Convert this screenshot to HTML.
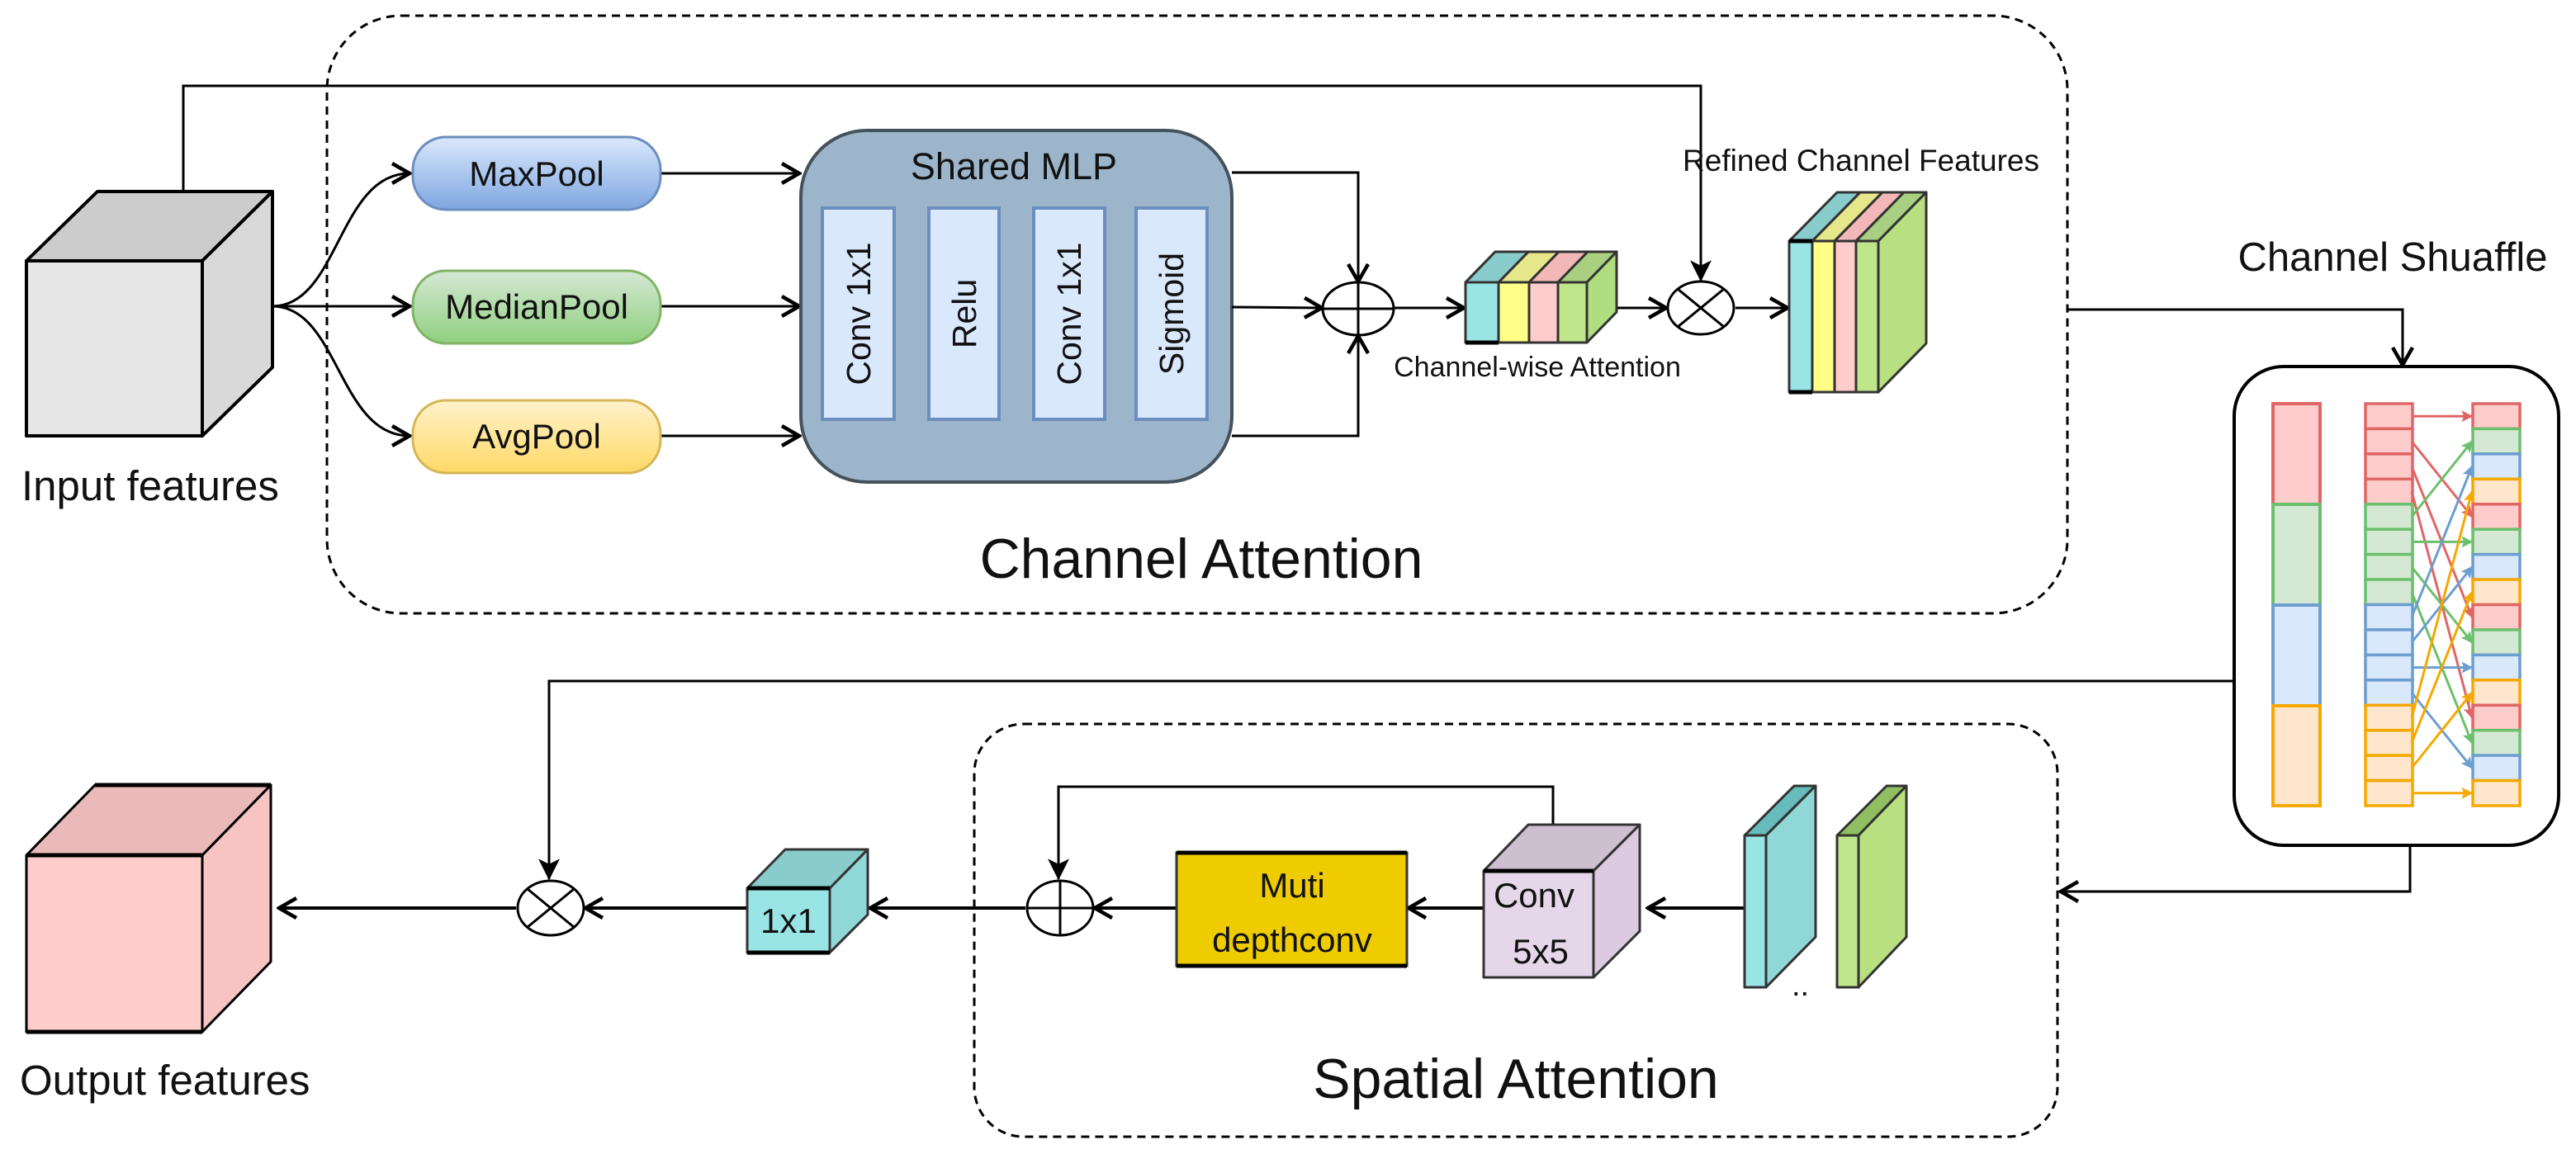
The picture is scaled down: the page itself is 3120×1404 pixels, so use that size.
<!DOCTYPE html>
<html><head><meta charset="utf-8"><style>html,body{margin:0;padding:0;background:#fff}svg{display:block}text{font-family:"Liberation Sans",sans-serif;fill:#111}</style></head><body>
<svg width="3120" height="1404" viewBox="0 0 3120 1404" xmlns="http://www.w3.org/2000/svg">
<defs>
<marker id="o" markerUnits="userSpaceOnUse" markerWidth="30" markerHeight="30" viewBox="0 0 20 20" refX="18" refY="10" orient="auto"><path d="M4,2 L18,10 L4,18" fill="none" stroke="#000" stroke-width="3"/></marker>
<marker id="f" markerUnits="userSpaceOnUse" markerWidth="26" markerHeight="34" viewBox="0 0 20 26" refX="19" refY="13" orient="auto"><path d="M0,3 L20,13 L0,23 L5,13 Z" fill="#000"/></marker>
<marker id="s" markerUnits="userSpaceOnUse" markerWidth="14" markerHeight="14" viewBox="0 0 10 10" refX="9" refY="5" orient="auto"><path d="M0,0 L10,5 L0,10 L2,5 Z" fill="context-stroke"/></marker>
<linearGradient id="gb" x1="0" y1="0" x2="0" y2="1"><stop offset="0" stop-color="#dae8fc"/><stop offset="1" stop-color="#7ea6e0"/></linearGradient>
<linearGradient id="gg" x1="0" y1="0" x2="0" y2="1"><stop offset="0" stop-color="#d5e8d4"/><stop offset="1" stop-color="#8fcf7f"/></linearGradient>
<linearGradient id="gy" x1="0" y1="0" x2="0" y2="1"><stop offset="0" stop-color="#fff2cc"/><stop offset="1" stop-color="#ffd966"/></linearGradient>
</defs>

<rect x="396" y="19" width="2108" height="724" rx="90" fill="none" stroke="#000" stroke-width="3" stroke-dasharray="10,7"/>
<rect x="1180" y="877" width="1312" height="500" rx="60" fill="none" stroke="#000" stroke-width="3" stroke-dasharray="10,7"/>

<g stroke="#000" stroke-width="4" stroke-linejoin="round">
<polygon points="32,316 118,232 330,232 245,316" fill="#cccccc"/>
<polygon points="245,316 330,232 330,445 245,528" fill="#d9d9d9"/>
<rect x="32" y="316" width="213" height="212" fill="#e6e6e6"/>
</g>
<text x="26" y="606" font-size="51">Input features</text>

<polyline points="222,232 222,104 2060,104 2060,340" fill="none" stroke="#000" stroke-width="3" marker-end="url(#f)"/>

<g fill="none" stroke="#000" stroke-width="3" marker-end="url(#o)">
<path d="M330,371 C410,371 410,210 496,210"/>
<path d="M330,371 L496,371"/>
<path d="M330,371 C410,371 410,528 496,528"/>
<path d="M800,210 L968,210"/>
<path d="M800,371 L968,371"/>
<path d="M800,528 L968,528"/>
</g>
<rect x="500" y="166" width="300" height="88" rx="40" fill="url(#gb)" stroke="#6c8ebf" stroke-width="3"/>
<rect x="500" y="328" width="300" height="88" rx="40" fill="url(#gg)" stroke="#82b366" stroke-width="3"/>
<rect x="500" y="485" width="300" height="88" rx="40" fill="url(#gy)" stroke="#d6b656" stroke-width="3"/>
<text x="650" y="225" font-size="42" text-anchor="middle">MaxPool</text>
<text x="650" y="386" font-size="42" text-anchor="middle">MedianPool</text>
<text x="650" y="543" font-size="42" text-anchor="middle">AvgPool</text>

<rect x="970" y="158" width="522" height="426" rx="80" fill="#9cb5ca" stroke="#45525c" stroke-width="4"/>
<text x="1228" y="217" font-size="45" text-anchor="middle">Shared MLP</text>
<g fill="#dae8fc" stroke="#6c8ebf" stroke-width="4">
<rect x="996" y="252" width="87" height="256"/>
<rect x="1125" y="252" width="85" height="256"/>
<rect x="1252" y="252" width="86" height="256"/>
<rect x="1376" y="252" width="86" height="256"/>
</g>
<g font-size="41">
<text transform="translate(1054,380) rotate(-90)" text-anchor="middle">Conv 1x1</text>
<text transform="translate(1182,380) rotate(-90)" text-anchor="middle">Relu</text>
<text transform="translate(1309,380) rotate(-90)" text-anchor="middle">Conv 1x1</text>
<text transform="translate(1433,380) rotate(-90)" text-anchor="middle">Sigmoid</text>
</g>

<g fill="none" stroke="#000" stroke-width="3" marker-end="url(#o)">
<polyline points="1492,209 1645,209 1645,341"/>
<polyline points="1492,372 1601,373"/>
<polyline points="1492,528 1645,528 1645,407"/>
<line x1="1689" y1="373" x2="1773" y2="373"/>
<line x1="1958" y1="373" x2="2018" y2="373"/>
<line x1="2102" y1="373" x2="2165" y2="373"/>
</g>
<g fill="#fff" stroke="#000" stroke-width="3">
<ellipse cx="1645" cy="374" rx="43" ry="32"/>
<ellipse cx="2060" cy="373" rx="40" ry="32"/>
</g>
<g stroke="#000" stroke-width="3">
<line x1="1602" y1="374" x2="1688" y2="374"/><line x1="1645" y1="342" x2="1645" y2="406"/>
<line x1="2032" y1="350" x2="2088" y2="396"/><line x1="2088" y1="350" x2="2032" y2="396"/>
</g>

<g stroke="#333" stroke-width="3" stroke-linejoin="round">
<polygon points="1775,342 1811,305 1958,305 1922,342" fill="#a0d8c8"/>
<polygon points="1815,342 1851,305 1888,305 1852,342" fill="#e6e68a"/>
<polygon points="1852,342 1888,305 1923,305 1887,342" fill="#f2b8b8"/>
<polygon points="1887,342 1923,305 1958,305 1922,342" fill="#a8d080"/>
<polygon points="1775,342 1811,305 1851,305 1815,342" fill="#88cccc"/>
<polygon points="1922,342 1958,305 1958,378 1922,415" fill="#b0dd80"/>
<rect x="1775" y="342" width="40" height="73" fill="#99e5e5"/>
<rect x="1815" y="342" width="37" height="73" fill="#ffff88"/>
<rect x="1852" y="342" width="35" height="73" fill="#ffcccc"/>
<rect x="1887" y="342" width="35" height="73" fill="#c0e68c"/>
</g>
<line x1="1775" y1="415" x2="1815" y2="415" stroke="#000" stroke-width="5"/>
<text x="1862" y="456" font-size="34" text-anchor="middle">Channel-wise Attention</text>

<g stroke="#333" stroke-width="3" stroke-linejoin="round">
<polygon points="2167,292 2225,233 2253,233 2195,292" fill="#88cccc"/>
<polygon points="2195,292 2253,233 2280,233 2222,292" fill="#e6e68a"/>
<polygon points="2222,292 2280,233 2306,233 2248,292" fill="#f2b8b8"/>
<polygon points="2248,292 2306,233 2333,233 2275,292" fill="#a8d080"/>
<polygon points="2275,292 2333,233 2333,416 2275,475" fill="#b8e080"/>
<rect x="2167" y="292" width="28" height="183" fill="#99e5e5"/>
<rect x="2195" y="292" width="27" height="183" fill="#ffff88"/>
<rect x="2222" y="292" width="26" height="183" fill="#ffcccc"/>
<rect x="2248" y="292" width="27" height="183" fill="#c0e68c"/>
</g>
<line x1="2167" y1="292" x2="2195" y2="292" stroke="#000" stroke-width="5"/>
<line x1="2167" y1="475" x2="2195" y2="475" stroke="#000" stroke-width="5"/>
<text x="2254" y="207" font-size="37" text-anchor="middle">Refined Channel Features</text>

<text x="1455" y="700" font-size="68" text-anchor="middle">Channel Attention</text>

<polyline points="2504,375 2910,375 2910,442" fill="none" stroke="#000" stroke-width="3" marker-end="url(#o)"/>
<text x="2898" y="328" font-size="49" text-anchor="middle">Channel Shuaffle</text>

<rect x="2706" y="444" width="393" height="580" rx="60" fill="#fff" stroke="#000" stroke-width="4"/>
<g stroke-width="4">
<rect x="2753" y="489" width="57" height="122" fill="#ffcccc" stroke="#e06666"/>
<rect x="2753" y="611" width="57" height="122" fill="#d5e8d4" stroke="#6cbf6c"/>
<rect x="2753" y="733" width="57" height="122" fill="#dae8fc" stroke="#6c9ecf"/>
<rect x="2753" y="855" width="57" height="121" fill="#ffe6cc" stroke="#f5a800"/>
</g>
<g id="sh" stroke-width="3.5"></g>
<script>
(function(){
var ns="http://www.w3.org/2000/svg",g=document.getElementById("sh");
var fills=["#ffcccc","#d5e8d4","#dae8fc","#ffe6cc"],strokes=["#e06666","#6cbf6c","#6c9ecf","#f5a800"];
var y0=489,h=(976-489)/16;
function r(x,y,c){var e=document.createElementNS(ns,"rect");e.setAttribute("x",x);e.setAttribute("y",y);e.setAttribute("width",57);e.setAttribute("height",h);e.setAttribute("fill",fills[c]);e.setAttribute("stroke",strokes[c]);g.appendChild(e);}
for(var i=0;i<16;i++){r(2865,y0+i*h,Math.floor(i/4));r(2995,y0+i*h,i%4);}
for(var i=0;i<16;i++){var c=Math.floor(i/4),j=i%4,t=j*4+c;var l=document.createElementNS(ns,"line");
l.setAttribute("x1",2921);l.setAttribute("y1",y0+(i+0.5)*h);l.setAttribute("x2",2994);l.setAttribute("y2",y0+(t+0.5)*h);
l.setAttribute("stroke",strokes[c]);l.setAttribute("stroke-width",3);l.setAttribute("marker-end","url(#s)");g.appendChild(l);}
})();
</script>

<polyline points="2706,825 665,825 665,1065" fill="none" stroke="#000" stroke-width="3" marker-end="url(#f)"/>
<polyline points="2919,1024 2919,1080 2496,1080" fill="none" stroke="#000" stroke-width="3" marker-end="url(#o)"/>

<g fill="none" stroke="#000" stroke-width="4" marker-end="url(#o)">
<line x1="2113" y1="1100" x2="1996" y2="1100"/>
<line x1="1797" y1="1100" x2="1706" y2="1100"/>
<line x1="1425" y1="1100" x2="1326" y2="1100"/>
<line x1="1242" y1="1100" x2="1054" y2="1100"/>
<line x1="905" y1="1100" x2="709" y2="1100"/>
<line x1="625" y1="1100" x2="338" y2="1100"/>
</g>
<polyline points="1881,999 1881,953 1282,953 1282,1065" fill="none" stroke="#000" stroke-width="3" marker-end="url(#f)"/>

<g fill="#fff" stroke="#000" stroke-width="3">
<ellipse cx="1284" cy="1100" rx="40" ry="33"/>
<ellipse cx="667" cy="1100" rx="40" ry="33"/>
</g>
<g stroke="#000" stroke-width="3">
<line x1="1244" y1="1100" x2="1324" y2="1100"/><line x1="1284" y1="1067" x2="1284" y2="1133"/>
<line x1="639" y1="1077" x2="695" y2="1123"/><line x1="695" y1="1077" x2="639" y2="1123"/>
</g>

<g stroke="#333" stroke-width="3" stroke-linejoin="round">
<polygon points="2113,1012 2173,952 2199,952 2139,1012" fill="#66bbbb"/>
<polygon points="2139,1012 2199,952 2199,1135 2139,1196" fill="#90d8d8"/>
<rect x="2113" y="1012" width="26" height="184" fill="#99e5e5"/>
<polygon points="2225,1012 2285,952 2309,952 2251,1012" fill="#8fbf60"/>
<polygon points="2251,1012 2309,952 2309,1135 2251,1196" fill="#b8e080"/>
<rect x="2225" y="1012" width="26" height="184" fill="#c0e68c"/>
</g>
<text x="2170" y="1206" font-size="38">..</text>

<g stroke="#333" stroke-width="3" stroke-linejoin="round">
<polygon points="1797,1055 1851,999 1986,999 1930,1055" fill="#cdbfd0"/>
<polygon points="1930,1055 1986,999 1986,1128 1930,1184" fill="#dccbe0"/>
<rect x="1797" y="1055" width="133" height="129" fill="#e6d6ea"/>
</g>
<line x1="1797" y1="1055" x2="1930" y2="1055" stroke="#000" stroke-width="5"/>
<text x="1858" y="1099" font-size="42" text-anchor="middle">Conv</text>
<text x="1866" y="1167" font-size="42" text-anchor="middle">5x5</text>

<rect x="1425" y="1033" width="279" height="137" fill="#eecc00" stroke="#333" stroke-width="3"/>
<line x1="1425" y1="1033" x2="1704" y2="1033" stroke="#000" stroke-width="5"/>
<line x1="1425" y1="1170" x2="1704" y2="1170" stroke="#000" stroke-width="5"/>
<text x="1565" y="1087" font-size="42" text-anchor="middle">Muti</text>
<text x="1565" y="1153" font-size="42" text-anchor="middle">depthconv</text>

<g stroke="#333" stroke-width="3" stroke-linejoin="round">
<polygon points="905,1076 951,1029 1051,1029 1005,1076" fill="#88cccc"/>
<polygon points="1005,1076 1051,1029 1051,1108 1005,1154" fill="#90d8d8"/>
<rect x="905" y="1076" width="100" height="78" fill="#99e5e5"/>
</g>
<line x1="905" y1="1076" x2="1005" y2="1076" stroke="#000" stroke-width="5"/>
<line x1="905" y1="1154" x2="1005" y2="1154" stroke="#000" stroke-width="5"/>
<text x="955" y="1130" font-size="42" text-anchor="middle">1x1</text>

<g stroke="#000" stroke-width="3" stroke-linejoin="round">
<polygon points="32,1036 115,951 328,951 245,1036" fill="#eababa"/>
<polygon points="245,1036 328,951 328,1165 245,1250" fill="#f7c3c3"/>
<rect x="32" y="1036" width="213" height="214" fill="#ffcccc"/>
</g>
<line x1="32" y1="1036" x2="245" y2="1036" stroke="#000" stroke-width="5"/>
<line x1="32" y1="1250" x2="245" y2="1250" stroke="#000" stroke-width="5"/>
<line x1="115" y1="951" x2="328" y2="951" stroke="#000" stroke-width="5"/>
<text x="24" y="1326" font-size="51">Output features</text>

<text x="1836" y="1330" font-size="68" text-anchor="middle">Spatial Attention</text>
</svg>
</body></html>
